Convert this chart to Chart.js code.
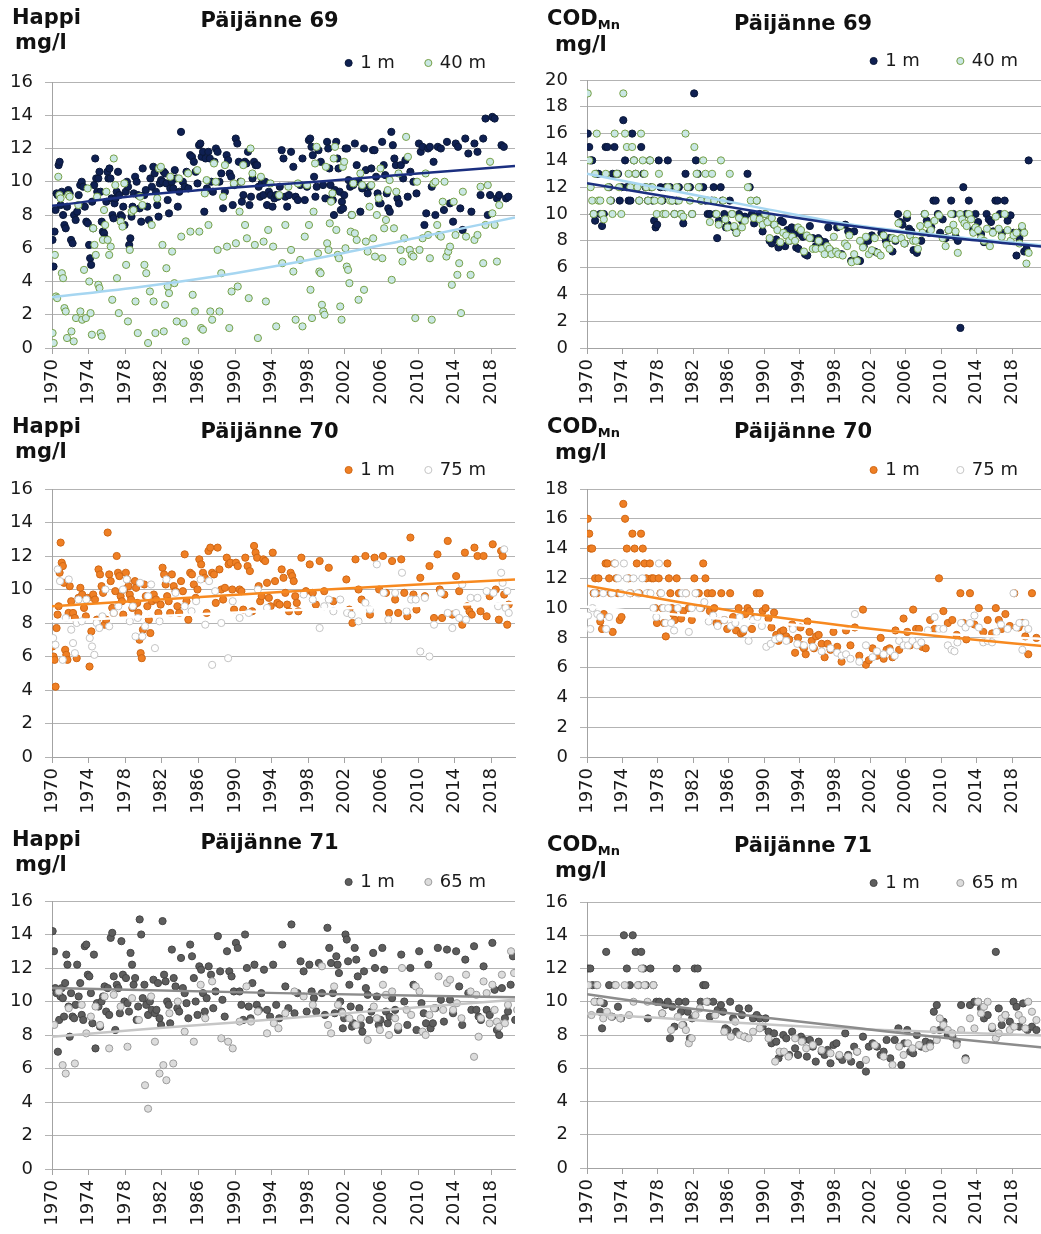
<!DOCTYPE html>
<html>
<head>
<meta charset="utf-8">
<script src="https://cdn.jsdelivr.net/npm/chart.js@4.4.1/dist/chart.umd.min.js"></script>
<style>
  html, body { margin: 0; padding: 0; background: #fff; overflow: hidden; width: 1041px; height: 1234px; }
  body { position: relative; font-family: 'DejaVu Sans', Verdana, sans-serif; color: #1a1a1a; }
  canvas { position: absolute; }
  .unit { position: absolute; font-weight: bold; font-size: 21px; line-height: 21px; white-space: nowrap; color: #111; }
  .unit .sub { font-size: 13px; position: relative; top: 4px; }
</style>
</head>
<body>

<canvas id="c1" width="520" height="412" style="left:0;top:0"></canvas>
<canvas id="c2" width="536" height="414" style="left:520px;top:-2px"></canvas>
<canvas id="c3" width="520" height="414" style="left:0;top:407px"></canvas>
<canvas id="c4" width="536" height="414" style="left:520px;top:407px"></canvas>
<canvas id="c5" width="520" height="414" style="left:0;top:819px"></canvas>
<canvas id="c6" width="536" height="412" style="left:520px;top:820px"></canvas>

<div class="unit" style="left:12px;top:7px">Happi</div>
<div class="unit" style="left:15px;top:32px">mg/l</div>
<div class="unit" style="left:547px;top:8px">COD<span class="sub">Mn</span></div>
<div class="unit" style="left:555px;top:34px">mg/l</div>

<div class="unit" style="left:12px;top:416px">Happi</div>
<div class="unit" style="left:15px;top:441px">mg/l</div>
<div class="unit" style="left:547px;top:416px">COD<span class="sub">Mn</span></div>
<div class="unit" style="left:555px;top:442px">mg/l</div>

<div class="unit" style="left:12px;top:829px">Happi</div>
<div class="unit" style="left:15px;top:854px">mg/l</div>
<div class="unit" style="left:547px;top:834px">COD<span class="sub">Mn</span></div>
<div class="unit" style="left:555px;top:860px">mg/l</div>

<script>
// Year labels on every x axis
const yearTicks = [1970, 1974, 1978, 1982, 1986, 1990, 1994, 1998, 2002, 2006, 2010, 2014, 2018];

// Observations: each row is [year, values measured during that year...]

// Päijänne 69 – dissolved oxygen (mg/l)
const happi69_1m = [
  [1970, 6.5, 4.9, 7.0, 8.3, 9.3, 9.2, 11.0, 11.2, 8.6],
  [1971, 9.4, 8.0, 7.4, 7.2, 8.5, 9.5, 9.3],
  [1972, 6.5, 6.3, 8.0, 7.7, 8.2, 9.2],
  [1973, 9.8, 10.0, 9.7, 8.5, 7.6, 7.5],
  [1974, 6.2, 5.4, 5.0, 8.8, 7.2, 9.8, 11.4, 10.2, 9.4],
  [1975, 10.2, 10.6, 9.4, 7.6, 7.0, 6.9, 6.6, 8.8],
  [1976, 10.6, 10.2, 10.8, 10.2, 9.0, 8.0, 7.8, 8.7, 9.0],
  [1977, 9.4, 10.6, 9.2, 8.0, 7.9, 8.5, 7.4],
  [1978, 9.4, 10.0, 9.7, 6.2, 6.6, 7.9, 8.5, 9.3],
  [1979, 10.3, 10.0, 9.2, 8.4, 7.6, 10.8],
  [1980, 9.2, 9.5, 8.5, 7.7, 10.2, 9.7],
  [1981, 10.9, 10.5, 9.4, 8.6, 7.9, 9.9, 10.1],
  [1982, 10.0, 10.6, 10.5, 9.9, 8.9, 8.1, 9.6],
  [1983, 10.0, 9.6, 10.7, 10.2, 8.5, 9.4],
  [1984, 13.0, 10.0, 9.7, 10.6, 9.6],
  [1985, 11.6, 11.5, 11.2, 10.6, 9.9],
  [1986, 12.2, 12.3, 11.5, 11.8, 8.2, 11.4, 9.6],
  [1987, 11.8, 11.4, 10.0, 9.4, 11.2, 12.0],
  [1988, 11.8, 10.0, 10.5, 8.4, 9.4],
  [1989, 11.6, 11.3, 10.5, 10.3, 8.6, 9.8],
  [1990, 12.6, 12.3, 11.2, 10.0, 8.8, 9.2],
  [1991, 11.2, 11.1, 11.8, 8.6, 9.1, 10.2],
  [1992, 11.2, 11.0, 11.0, 9.7, 9.1, 9.9],
  [1993, 9.2, 10.0, 8.6, 9.4, 9.2],
  [1994, 8.5, 9.0, 9.2, 9.1, 9.7],
  [1995, 11.9, 11.4, 9.1, 8.5, 9.2],
  [1996, 11.8, 10.9, 9.1, 8.9],
  [1997, 9.8, 11.4, 8.9, 9.7],
  [1998, 12.5, 12.6, 12.1, 11.6, 10.3, 9.1, 9.7],
  [1999, 11.9, 11.2, 9.8, 9.0],
  [2000, 12.4, 12.0, 10.8, 9.8, 9.0, 8.9, 8.0, 9.5],
  [2001, 12.4, 11.4, 10.8, 9.4, 8.3, 8.8, 8.4, 9.2],
  [2002, 12.0, 12.0, 10.1, 9.7, 8.0, 9.8],
  [2003, 12.3, 11.0, 10.0, 8.2, 9.6],
  [2004, 12.0, 10.7, 9.3, 9.7, 10.8],
  [2005, 11.9, 11.9, 10.3, 9.3, 8.7, 8.7],
  [2006, 12.4, 11.0, 10.4, 9.3, 8.4, 8.2],
  [2007, 13.0, 12.2, 11.4, 11.0, 9.0, 8.7],
  [2008, 11.0, 10.2, 11.3, 9.1],
  [2009, 10.6, 10.0, 9.3],
  [2010, 12.3, 11.8, 12.1, 7.4, 8.1],
  [2011, 12.0, 12.1, 9.7, 11.2, 8.0],
  [2012, 12.1, 12.0, 8.3],
  [2013, 12.4, 8.7, 7.6],
  [2014, 12.3, 12.1, 8.4, 7.1],
  [2015, 12.6, 11.7, 8.2],
  [2016, 12.3, 11.8, 9.2],
  [2017, 12.6, 13.8, 8.0, 9.2],
  [2018, 13.9, 13.8, 9.0, 9.2],
  [2019, 12.2, 12.1, 9.0, 9.1]
];
const happi69_40m = [
  [1970, 0.9, 0.3, 5.6, 3.1, 3.0, 10.3, 9.2, 9.0],
  [1971, 4.5, 4.2, 2.4, 2.2, 0.6, 9.2, 9.1],
  [1972, 1.0, 0.4, 1.8, 8.6],
  [1973, 2.2, 1.7, 4.7, 1.8, 9.6],
  [1974, 4.0, 2.1, 0.8, 7.2, 6.2, 5.6, 9.1],
  [1975, 3.8, 3.6, 0.9, 0.7, 6.5, 8.3, 7.4, 9.4],
  [1976, 6.5, 5.6, 6.1, 2.9, 11.4, 9.8],
  [1977, 4.2, 2.1, 7.6, 7.3, 9.9],
  [1978, 5.0, 1.6, 5.9, 8.2, 8.3],
  [1979, 2.8, 0.9, 9.1, 8.6],
  [1980, 5.0, 4.5, 0.3, 3.4, 7.4],
  [1981, 2.8, 0.9, 9.0, 10.8, 10.9],
  [1982, 6.2, 1.0, 2.6, 4.8, 3.7, 3.3, 10.3],
  [1983, 5.8, 3.9, 1.6, 10.2],
  [1984, 6.7, 1.5, 0.4, 10.5],
  [1985, 7.0, 3.2, 2.2, 10.7],
  [1986, 7.0, 1.2, 1.1, 9.3, 10.1],
  [1987, 7.4, 2.2, 1.7, 11.1, 10.0],
  [1988, 5.9, 2.2, 4.5, 9.1, 11.0],
  [1989, 6.1, 1.2, 3.4, 9.9],
  [1990, 6.3, 3.7, 8.2, 10.0, 11.0],
  [1991, 7.4, 6.6, 3.0, 12.0, 10.5],
  [1992, 6.2, 0.6, 10.3],
  [1993, 6.4, 2.8, 7.1, 9.9],
  [1994, 6.1, 1.3, 9.2],
  [1995, 5.1, 7.4, 9.7],
  [1996, 5.9, 4.6, 1.7, 9.9],
  [1997, 5.3, 1.3, 6.7, 9.8],
  [1998, 7.4, 3.5, 1.8, 8.2, 11.1, 12.1],
  [1999, 5.7, 4.6, 4.5, 2.6, 2.2, 2.0, 10.9],
  [2000, 6.3, 5.9, 7.5, 8.8, 9.3, 11.4, 12.1],
  [2001, 7.1, 5.6, 5.4, 2.5, 1.7, 10.9, 11.2],
  [2002, 6.0, 4.9, 4.7, 3.9, 7.0, 8.0, 9.9],
  [2003, 6.9, 6.5, 2.9, 10.5, 9.8],
  [2004, 3.5, 6.4, 5.8, 8.5, 9.8],
  [2005, 6.6, 5.5, 8.0, 9.0, 10.8],
  [2006, 5.4, 7.2, 7.7, 9.5, 10.1],
  [2007, 4.1, 7.2, 9.4, 10.5],
  [2008, 5.9, 5.2, 6.6, 12.7, 11.5],
  [2009, 5.9, 5.6, 5.5, 1.8, 10.0],
  [2010, 5.9, 6.6, 10.5],
  [2011, 6.8, 5.4, 1.7, 9.9, 10.0],
  [2012, 7.4, 6.8, 6.7, 8.8, 10.0],
  [2013, 5.5, 5.8, 6.1, 3.8, 8.8],
  [2014, 6.8, 4.4, 5.1, 2.1, 9.4],
  [2015, 6.7, 4.4],
  [2016, 6.5, 6.8, 9.7],
  [2017, 5.1, 7.4, 9.8, 11.2],
  [2018, 8.1, 7.4, 5.2, 8.6]
];
const happi69_trend1m = [[1970, 8.55], [1980, 9.2], [1990, 9.65], [2000, 10.05], [2010, 10.5], [2020.6, 10.95]];
const happi69_trend40m = [[1970, 3.05], [1980, 3.7], [1990, 4.5], [2000, 5.5], [2010, 6.65], [2020.6, 7.85]];

// Päijänne 69 – COD Mn (mg/l)
const cod69_1m = [
  [1970, 16, 15, 14, 14, 10, 9.5],
  [1971, 13, 13, 10, 9.1, 10],
  [1972, 15, 15, 12, 11, 13],
  [1973, 15, 13, 13, 11, 12],
  [1974, 17, 14, 12, 11, 11],
  [1975, 16, 14, 13, 12, 11],
  [1976, 15, 13, 12, 11],
  [1977, 14, 12, 11, 9.5, 9, 9.2],
  [1978, 14, 12, 11, 10, 12],
  [1979, 14, 12, 11, 10],
  [1980, 11, 12, 10, 9.3],
  [1981, 13, 12, 12, 10],
  [1982, 19, 14, 13, 12, 11],
  [1983, 12, 11, 10, 10],
  [1984, 11, 12, 10, 8.2, 9.5],
  [1985, 12, 11, 10, 9, 9.2],
  [1986, 11, 10, 9, 8.6],
  [1987, 10, 9.5, 9.8],
  [1988, 13, 12, 10, 9.3],
  [1989, 11, 10, 8.7],
  [1990, 10, 9.4, 8, 7.8],
  [1991, 9.2, 8.1, 7.5, 9.5],
  [1992, 9.4, 7.6, 8.8, 8.0],
  [1993, 9, 8.5, 7.5, 7.4],
  [1994, 8.5, 8.3, 7.0, 6.9],
  [1995, 9.1, 8.2, 7.6],
  [1996, 8.2, 8.0, 7.5, 7.9],
  [1997, 9, 7.2],
  [1998, 9.0, 7.0],
  [1999, 9.2, 8.7, 6.5],
  [2000, 8.7, 6.6, 6.5],
  [2001, 7.6, 8.0],
  [2002, 8.4, 7.2, 7.1],
  [2003, 8.6, 8.0],
  [2004, 8.2, 7.2, 8.0],
  [2005, 10, 9.4, 9.2, 7.8],
  [2006, 9.7, 8.9, 8.7, 7.3],
  [2007, 7.1, 8.0],
  [2008, 10, 9.5, 8.6, 9.0],
  [2009, 11, 11, 10, 8.6],
  [2010, 9.6, 8.2, 8.8],
  [2011, 11, 10, 8.3, 8.0],
  [2012, 1.5, 12, 10],
  [2013, 11, 9.8, 8.8, 10],
  [2014, 9.4, 8.5, 7.9],
  [2015, 10, 9.6, 9.4, 8.7],
  [2016, 11, 11, 10, 8.6],
  [2017, 11, 9.5, 9.9],
  [2018, 8.6, 6.9, 8.2],
  [2019, 8.8, 7.2, 7.4, 14]
];
const cod69_40m = [
  [1970, 19, 14, 12, 11, 10, 13],
  [1971, 16, 11, 11, 10, 9.6],
  [1972, 13, 12, 11, 10],
  [1973, 16, 13, 12, 10],
  [1974, 19, 16, 15, 13, 12],
  [1975, 15, 14, 13, 12, 11],
  [1976, 16, 14, 13, 12, 11],
  [1977, 14, 12, 11, 10],
  [1978, 13, 11, 10, 10],
  [1979, 12, 11, 11, 10],
  [1980, 12, 11, 10, 9.8],
  [1981, 16, 12, 11, 10],
  [1982, 15, 13, 12, 11],
  [1983, 14, 13, 11, 9.4],
  [1984, 13, 11, 10, 9.2],
  [1985, 14, 11, 9.6, 9.0],
  [1986, 13, 10, 9.1, 8.6],
  [1987, 9.7, 9.0, 9.5],
  [1988, 12, 11, 9.7],
  [1989, 11, 9.6, 9.2],
  [1990, 10, 9.4, 8.2, 9.7],
  [1991, 9.2, 8.8, 7.9],
  [1992, 8.6, 8.4, 8.0],
  [1993, 8.3, 8.0, 9.0],
  [1994, 8.8, 7.2, 8.4],
  [1995, 8.2, 7.4, 7.4],
  [1996, 8.0, 7.4, 7.0],
  [1997, 7.6, 7.4, 7.0, 8.3],
  [1998, 7.2, 7.0, 9.1, 6.9],
  [1999, 7.8, 7.6, 8.4, 6.4],
  [2000, 7.0, 6.5, 8.0],
  [2001, 7.5, 8.3, 7.0],
  [2002, 7.3, 8.2, 7.1],
  [2003, 6.9, 8.4, 7.7],
  [2004, 7.4, 8.2, 8.1],
  [2005, 9.3, 8.2, 7.8],
  [2006, 10, 8.4, 8.0],
  [2007, 8.0, 7.4, 9.1, 8.6],
  [2008, 10, 9.2, 8.8],
  [2009, 9.5, 9.9],
  [2010, 8.2, 7.6, 8.8],
  [2011, 10, 9.2, 8.7, 7.1],
  [2012, 10, 9.6, 9.3, 9.1],
  [2013, 10, 9.6, 8.6, 9.0],
  [2014, 8.8, 8.2, 8.0],
  [2015, 8.9, 7.6, 8.6],
  [2016, 9.8, 8.9, 8.3],
  [2017, 10, 8.8, 8.0],
  [2018, 8.4, 8.6, 7.8],
  [2019, 9.1, 8.6, 6.3, 7.1]
];
const cod69_trend1m = [[1970, 12.3], [1980, 11.2], [1990, 10.1], [2000, 9.1], [2010, 8.3], [2022.4, 7.5]];
const cod69_trend40m = [[1970, 13.0], [1980, 11.7], [1990, 10.4], [2000, 9.2], [2010, 8.4], [2022.4, 7.6]];

// Päijänne 70 – dissolved oxygen (mg/l)
const happi70_1m = [
  [1970, 6.6, 6.0, 5.8, 4.2, 7.7, 8.5, 9.0, 11.0, 12.8],
  [1971, 11.6, 11.4, 10.4, 6.4, 6.1, 5.8, 8.6, 10.2],
  [1972, 9.3, 8.6, 8.3, 5.9, 9.5],
  [1973, 10.1, 9.7, 8.9, 8.4, 9.5],
  [1974, 5.4, 7.5, 9.7, 9.4, 8.2],
  [1975, 11.2, 10.9, 10.2, 9.8, 7.9, 8.2],
  [1976, 13.4, 10.9, 10.5, 8.9, 8.6, 9.9],
  [1977, 12.0, 11.0, 10.8, 9.6, 9.3, 8.5, 10.0],
  [1978, 11.0, 10.6, 10.2, 9.7, 9.4, 8.9, 9.0],
  [1979, 10.5, 10.1, 9.2, 8.6, 7.0, 6.2, 5.9, 7.6],
  [1980, 10.3, 9.6, 9.0, 8.2, 7.4, 9.3],
  [1981, 9.7, 9.4, 8.6, 9.1],
  [1982, 11.3, 10.9, 10.3, 9.6, 9.3, 8.6],
  [1983, 10.9, 10.2, 9.9, 9.0, 8.6],
  [1984, 10.5, 9.9, 12.1, 9.3, 8.2],
  [1985, 11.0, 10.9, 10.3, 9.5, 10.0],
  [1986, 11.8, 11.5, 11.0, 10.7, 8.6],
  [1987, 12.3, 12.5, 11.0, 10.9, 9.2],
  [1988, 12.5, 11.2, 10.0, 9.4, 10.1],
  [1989, 11.9, 11.5, 11.6, 10.0, 8.8],
  [1990, 11.6, 11.4, 10.0, 9.9, 8.8],
  [1991, 11.9, 11.4, 11.1, 8.7],
  [1992, 12.6, 12.2, 11.9, 10.2, 9.3, 9.6],
  [1993, 11.8, 11.7, 10.4, 9.5, 9.0],
  [1994, 12.2, 10.5, 9.2, 9.1],
  [1995, 11.2, 10.7, 9.8, 9.1, 8.7],
  [1996, 11.0, 10.8, 10.5, 9.6, 9.2, 8.7],
  [1997, 11.9, 9.9],
  [1998, 11.5, 9.8, 9.1],
  [1999, 11.7, 9.9],
  [2000, 11.3, 9.3],
  [2002, 10.6, 8.8, 8.0],
  [2003, 11.8, 10.0, 9.4],
  [2004, 12.0, 8.5],
  [2005, 11.9, 10.0],
  [2006, 12.0, 9.8, 8.6],
  [2007, 11.7, 9.4, 8.6],
  [2008, 11.8, 9.8, 8.4],
  [2009, 13.1, 9.7, 8.8],
  [2010, 10.7, 9.6],
  [2011, 11.4, 8.3],
  [2012, 12.1, 10.0, 8.3, 9.7],
  [2013, 12.9, 8.5],
  [2014, 10.8, 9.9, 7.9],
  [2015, 12.2, 9.0, 8.7, 8.5],
  [2016, 12.5, 12.0, 8.7],
  [2017, 12.0, 8.4, 9.6],
  [2018, 12.7, 10.0, 8.2],
  [2019, 12.3, 12.0, 9.7, 9.0, 7.9, 9.1]
];
const happi70_75m = [
  [1970, 7.1, 6.7, 11.2, 10.5],
  [1971, 5.8, 8.3, 10.6],
  [1972, 7.6, 6.8, 6.2, 8.0, 9.4],
  [1973, 8.1, 9.4],
  [1974, 7.1, 6.6, 6.1, 8.0],
  [1975, 7.7, 8.4, 10.0],
  [1976, 7.8, 8.6],
  [1977, 9.0, 10.0],
  [1978, 10.6, 8.1, 9.0],
  [1979, 7.2, 8.3, 10.4, 7.2],
  [1980, 7.8, 9.6, 10.3],
  [1981, 6.5, 8.1],
  [1982, 10.6],
  [1983, 9.8],
  [1984, 9.0],
  [1985, 8.7, 9.3],
  [1986, 10.6, 7.9],
  [1987, 10.5, 5.5, 9.9],
  [1988, 8.0],
  [1989, 5.9, 9.3],
  [1990, 8.3],
  [1991, 8.6],
  [1992, 10.0],
  [1993, 8.9],
  [1997, 9.7],
  [1998, 9.4],
  [1999, 7.7, 9.0],
  [2000, 9.4, 8.7],
  [2001, 9.4],
  [2002, 8.6, 8.5],
  [2003, 8.1],
  [2004, 9.2, 8.8],
  [2005, 11.5],
  [2006, 9.8, 8.2],
  [2007, 9.8],
  [2008, 11.0, 8.7],
  [2009, 9.4, 9.4],
  [2010, 6.3, 9.5],
  [2011, 6.0, 7.9],
  [2012, 9.8],
  [2013, 8.6, 7.7],
  [2014, 8.6, 8.3, 10.3],
  [2015, 8.2, 9.5],
  [2016, 9.5],
  [2017, 9.9],
  [2018, 9.8, 9.0],
  [2019, 11.0, 10.4, 12.4, 8.9, 9.9, 8.6]
];
const happi70_trend1m = [[1970, 9.0], [1995, 9.85], [2020.6, 10.6]];
const happi70_trend75m = [[1970, 8.1], [1995, 8.75], [2020.6, 9.2]];

// Päijänne 70 – COD Mn (mg/l)
const cod70_1m = [
  [1970, 16, 15, 14, 14, 11, 12],
  [1971, 11, 12, 9.1, 8.6, 9.6],
  [1972, 13, 13, 12, 11, 8.4],
  [1973, 13, 12, 11, 9.2, 9.4],
  [1974, 17, 16, 14, 12, 11],
  [1975, 15, 14, 13, 11],
  [1976, 15, 14, 13, 12, 11],
  [1977, 13, 12, 12, 10, 9.0],
  [1978, 12, 11, 10, 9.0, 8.1],
  [1979, 13, 12, 11, 10, 9.6, 9.2],
  [1980, 12, 11, 9.3, 9.8],
  [1981, 11, 10, 9.2],
  [1982, 12, 11, 11, 10],
  [1983, 13, 12, 11, 9.8],
  [1984, 11, 10, 9.0, 9.1],
  [1985, 11, 9.2, 8.6],
  [1986, 11, 9.4, 8.5],
  [1987, 10, 8.3, 8.4, 9.6],
  [1988, 10, 9.8, 8.6, 9.3],
  [1989, 11, 11, 9.8],
  [1990, 10, 9.3, 8.7],
  [1991, 9.7, 8.2, 7.8, 8.4],
  [1992, 8.5, 8.1, 7.9],
  [1993, 8.9, 7.0, 8.0],
  [1994, 8.7, 7.5, 7.3, 6.9, 9.1],
  [1995, 8.4, 7.8, 7.3, 8.1],
  [1996, 8.2, 7.6, 6.7],
  [1997, 7.6, 7.2, 8.4],
  [1998, 7.4, 6.4],
  [1999, 8.5, 7.5],
  [2000, 8.7, 6.8],
  [2001, 9.9, 6.2, 6.5],
  [2002, 7.3, 6.8],
  [2003, 8.0, 6.6, 7.2],
  [2004, 7.3, 6.7, 8.5],
  [2005, 7.2, 9.3],
  [2006, 8.4, 7.5, 9.9],
  [2007, 8.6, 8.6, 7.4],
  [2008, 7.3, 9.2],
  [2009, 8.6, 12],
  [2010, 9.8, 9.0],
  [2011, 9.2, 8.2],
  [2012, 11, 9.0, 7.9],
  [2013, 11, 8.9],
  [2014, 10, 8.4],
  [2015, 9.2, 8.3],
  [2016, 10, 9.2, 8.6],
  [2017, 9.6, 8.8],
  [2018, 11, 8.7],
  [2019, 9.0, 8.1, 6.9],
  [2020, 11, 8.0]
];
const cod70_75m = [
  [1970, 9.5, 8.6, 10, 11],
  [1971, 9.6, 9.4, 11],
  [1972, 8.6, 9.4, 11],
  [1973, 13, 12, 11],
  [1974, 13, 12, 11],
  [1975, 12, 11],
  [1976, 12, 11],
  [1977, 11, 10, 9.4],
  [1978, 13, 11, 10, 9.0],
  [1979, 10, 9.0, 8.5],
  [1980, 10, 11],
  [1981, 11, 8.4, 10],
  [1982, 11, 10],
  [1983, 10.4, 9.1],
  [1984, 9.5, 8.8],
  [1985, 9.2],
  [1986, 8.8, 9.0],
  [1987, 9.4, 8.6],
  [1988, 7.8, 9.2],
  [1989, 9.4, 8.8],
  [1990, 7.4, 7.6],
  [1991, 7.9, 8.0],
  [1992, 7.8],
  [1993, 8.6, 7.6],
  [1994, 7.5],
  [1995, 7.4],
  [1996, 7.1],
  [1997, 7.3],
  [1998, 7.0, 6.8],
  [1999, 6.9, 6.6],
  [2000, 9.6, 6.4],
  [2001, 7.5],
  [2002, 6.7, 7.1],
  [2003, 6.9],
  [2004, 7.1, 6.8],
  [2005, 7.8, 7.5],
  [2006, 7.5, 7.8],
  [2007, 7.5, 7.7],
  [2008, 8.5],
  [2009, 9.4, 8.6],
  [2010, 8.6, 7.5],
  [2011, 7.2, 7.1, 7.7],
  [2012, 9.0, 8.7],
  [2013, 9.0, 9.5],
  [2014, 8.7, 7.7],
  [2015, 7.8, 7.7],
  [2016, 8.4, 8.9],
  [2017, 8.6],
  [2018, 11, 8.7, 9.0],
  [2019, 7.2, 9.0, 8.6]
];
const cod70_trend1m = [[1970, 11.5], [1980, 10.45], [1990, 9.5], [2000, 8.75], [2010, 8.1], [2022.4, 7.4]];
const cod70_trend75m = [[1970, 10.1], [1995, 8.8], [2022.4, 7.9]];

// Päijänne 71 – dissolved oxygen (mg/l)
const happi71_1m = [
  [1970, 14.2, 13.0, 10.8, 10.5, 7.0, 8.9, 10.3],
  [1971, 10.8, 10.2, 9.1, 11.1, 12.8, 12.2, 9.7, 7.9],
  [1972, 10.5, 9.1, 9.0, 9.8, 12.2, 10.3],
  [1973, 11.1, 9.2, 8.9, 13.3, 13.4, 11.6],
  [1974, 11.5, 10.5, 8.7, 12.8, 7.2, 9.9],
  [1975, 9.7, 8.5, 10.0, 10.3, 10.9, 9.4],
  [1976, 10.8, 9.2, 13.8, 14.1, 11.5, 8.3],
  [1977, 11.0, 10.8, 9.3, 13.6, 11.6, 10.0],
  [1978, 11.4, 9.9, 9.4, 12.9, 12.2, 11.0],
  [1979, 11.4, 8.9, 9.7, 14.9, 14.0, 10.2],
  [1980, 11.0, 9.8, 9.2, 10.0, 9.5],
  [1981, 11.3, 9.3, 9.5, 11.1, 9.0, 8.6],
  [1982, 14.8, 11.6, 11.2, 10.0, 9.8, 8.7],
  [1983, 13.1, 11.4, 10.9, 9.6, 9.4],
  [1984, 12.6, 10.8, 10.5, 9.9, 9.0],
  [1985, 13.4, 12.7, 11.4, 10.0, 9.2],
  [1986, 12.1, 11.9, 10.5, 9.4, 10.2],
  [1987, 12.1, 11.6, 9.6, 10.6],
  [1988, 13.9, 11.8, 10.1, 9.1],
  [1989, 13.0, 11.8, 11.5, 10.6],
  [1990, 13.5, 13.2, 10.6, 9.8, 8.9],
  [1991, 14.0, 12.0, 9.7, 9.0, 11.1],
  [1992, 12.2, 9.8, 9.5, 10.5],
  [1993, 11.9, 9.5, 9.1],
  [1994, 12.2, 9.8, 9.0],
  [1995, 13.4, 10.9, 9.6],
  [1996, 14.6, 9.3, 10.5],
  [1997, 12.4, 11.8, 9.4],
  [1998, 12.2, 10.6, 10.2, 9.4],
  [1999, 12.3, 10.5, 9.2],
  [2000, 14.4, 13.2, 12.3, 10.5, 9.3],
  [2001, 12.7, 12.2, 11.7, 10.0, 9.4, 8.4, 9.0],
  [2002, 14.0, 13.7, 12.4, 11.0, 9.7, 8.5, 8.7],
  [2003, 13.2, 12.5, 11.5, 9.6, 8.6, 8.2],
  [2004, 11.8, 10.8, 10.4, 8.9, 9.4],
  [2005, 12.9, 12.0, 10.3, 8.6, 8.9],
  [2006, 13.2, 11.9, 9.4, 8.7, 9.1],
  [2007, 10.2, 9.5, 8.3],
  [2008, 12.8, 10.0, 8.6],
  [2009, 12.0, 11.0, 8.3],
  [2010, 13.0, 9.9, 9.3, 8.7],
  [2011, 12.2, 8.4, 8.7, 9.6],
  [2012, 13.2, 10.1, 8.8],
  [2013, 13.1, 10.1, 9.3],
  [2014, 13.0, 10.9, 8.6],
  [2015, 12.5, 10.5, 9.5],
  [2016, 13.3, 9.5, 9.1, 8.9],
  [2017, 12.1, 9.5, 9.2],
  [2018, 13.5, 10.7, 8.3, 8.0],
  [2019, 10.8, 9.0, 9.4],
  [2020, 11.0, 12.7, 8.9, 10.0]
];
const happi71_65m = [
  [1970, 8.6, 10.6],
  [1971, 6.2, 5.7, 9.6],
  [1972, 6.3],
  [1973, 9.8, 8.1],
  [1974, 9.1, 9.7],
  [1975, 8.6, 10.3],
  [1976, 7.2, 10.4],
  [1977, 9.7],
  [1978, 7.3, 10.2],
  [1979, 8.9],
  [1980, 5.0, 3.6, 10.3],
  [1981, 7.6, 5.7],
  [1982, 6.2, 5.3, 9.3],
  [1983, 6.3, 10.0],
  [1984, 8.2],
  [1985, 7.6],
  [1986, 11.0, 9.0],
  [1987, 11.2],
  [1988, 7.8],
  [1989, 7.6, 7.2],
  [1990, 8.8],
  [1991, 10.9, 8.8],
  [1992, 9.4],
  [1993, 8.1],
  [1994, 8.7, 8.4],
  [1995, 9.3],
  [1996, 10.6],
  [1997, 10.3],
  [1998, 9.8],
  [1999, 12.1],
  [2000, 8.6, 8.1, 10.9],
  [2001, 9.8, 9.3],
  [2002, 9.0],
  [2003, 8.6, 9.0],
  [2004, 7.7],
  [2005, 9.7, 9.0, 8.3],
  [2006, 11.0, 10.4, 8.0],
  [2007, 10.6, 9.0, 8.5],
  [2008, 12.0, 9.5],
  [2009, 9.2, 10.9],
  [2010, 10.6, 8.2, 8.0],
  [2011, 9.2, 9.6],
  [2012, 11.5, 9.5],
  [2013, 11.1, 11.3, 9.5],
  [2014, 9.9, 9.0],
  [2015, 11.6, 10.6],
  [2016, 6.7, 10.4, 7.9, 9.0],
  [2017, 11.2, 10.5, 8.7],
  [2018, 11.0, 9.5, 8.8, 8.5],
  [2019, 11.6, 8.7, 9.8],
  [2020, 13.0, 11.7, 9.5]
];
const happi71_trend1m = [[1970, 10.8], [1995, 10.5], [2020.6, 10.25]];
const happi71_trend65m = [[1970, 7.9], [1980, 8.35], [1990, 8.75], [2000, 9.2], [2010, 9.65], [2020.6, 10.1]];

// Päijänne 71 – COD Mn (mg/l)
const cod71_1m = [
  [1970, 12, 12, 11, 10],
  [1971, 11, 10, 9.4, 8.4, 9.9],
  [1972, 13, 11, 9.1],
  [1973, 11, 9.7, 9.0],
  [1974, 14, 12, 11],
  [1975, 14, 13, 11],
  [1976, 13, 12, 11, 9.0],
  [1977, 12, 11, 10],
  [1978, 10, 9.3, 9.8],
  [1979, 10, 7.8, 9.7, 8.5],
  [1980, 12, 10, 9.4, 8.6],
  [1981, 10, 9.4, 7.8, 9.0],
  [1982, 12, 12, 10],
  [1983, 11, 11, 10, 9.1],
  [1984, 10, 9.5],
  [1985, 9.8, 9.4, 8.4, 8.3],
  [1986, 10, 9.0, 8.2],
  [1987, 9.6, 9.2, 7.9],
  [1988, 9.6, 9.0],
  [1989, 9.2, 9.0, 8.5],
  [1990, 9.0, 8.2, 7.5],
  [1991, 8.1, 7.6, 6.6, 6.9],
  [1992, 8.0, 7.8, 6.8],
  [1993, 8.2, 7.2, 6.8],
  [1994, 7.9, 7.7, 6.7],
  [1995, 7.7, 7.3, 6.4],
  [1996, 7.6, 7.0, 6.8],
  [1997, 7.1, 6.3, 7.4],
  [1998, 7.5, 6.7, 6.5],
  [1999, 8.1, 6.8, 6.4],
  [2000, 7.3, 7.0, 6.2],
  [2001, 7.9, 5.8, 7.3],
  [2002, 7.5, 7.3],
  [2003, 6.8, 7.0, 7.7],
  [2004, 6.6, 7.7],
  [2005, 8.4, 6.2, 7.5],
  [2006, 8.3, 7.0, 6.9],
  [2007, 8.0, 7.3],
  [2008, 7.6, 7.5],
  [2009, 9.4, 9.8, 8.3],
  [2010, 8.8, 8.0],
  [2011, 7.9, 7.6],
  [2012, 9.8, 6.6],
  [2013, 9.8, 10],
  [2014, 10, 9.6, 9.0],
  [2015, 9.2, 8.4],
  [2016, 13, 9.6, 8.6],
  [2017, 9.2, 8.8],
  [2018, 10, 9.7, 8.5],
  [2019, 9.9, 8.3],
  [2020, 8.5, 8.3]
];
const cod71_65m = [
  [1970, 11, 9.2, 10],
  [1971, 11, 10, 9.0],
  [1972, 9.4, 9.1],
  [1973, 11, 9.0],
  [1974, 11, 9.2],
  [1975, 10, 11],
  [1976, 12, 11, 10],
  [1977, 11],
  [1978, 9.3],
  [1979, 8.3],
  [1980, 9.1, 8.6],
  [1981, 8.3, 7.5, 7.8],
  [1982, 9.2, 9.6],
  [1983, 10],
  [1984, 9.2],
  [1985, 8.2],
  [1986, 7.9, 8.8],
  [1987, 8.0, 7.9],
  [1988, 7.8, 8.2],
  [1989, 8.4],
  [1990, 7.8],
  [1991, 6.4, 7.0],
  [1992, 7.0, 6.7],
  [1993, 7.8],
  [1994, 7.6, 7.2],
  [1995, 7.4],
  [1996, 7.1],
  [1997, 6.9],
  [1998, 6.8],
  [1999, 6.7],
  [2000, 7.0],
  [2001, 6.5],
  [2002, 7.4],
  [2003, 6.7],
  [2004, 6.2],
  [2005, 7.3, 6.8],
  [2006, 7.5, 7.2],
  [2007, 7.4],
  [2008, 7.2, 7.3],
  [2009, 8.3, 7.7, 9.0],
  [2010, 8.6, 8.3],
  [2011, 8.1, 7.4],
  [2012, 8.3, 6.5],
  [2013, 9.0, 8.4],
  [2014, 10, 9.3, 9.7],
  [2015, 10, 8.5],
  [2016, 7.8, 8.1, 9.0],
  [2017, 9.2, 8.3],
  [2018, 8.5, 9.2],
  [2019, 8.9, 8.4, 10],
  [2020, 9.4, 8.9]
];
const cod71_trend1m = [[1970, 10.45], [1980, 9.7], [1990, 9.05], [2000, 8.45], [2010, 7.85], [2022.4, 7.2]];
const cod71_trend65m = [[1970, 9.3], [1995, 8.5], [2022.4, 7.95]];

const FONT = "'DejaVu Sans', Verdana, sans-serif";

// Width of a two-digit tick label, used to right-align the y labels
const measureCtx = document.createElement('canvas').getContext('2d');
measureCtx.font = '18px ' + FONT;
const twoDigitWidth = measureCtx.measureText('16').width;

// Spread the samples of one year evenly across that year
function samples(rows) {
  const pts = [];
  rows.forEach(r => {
    const vals = r.slice(1);
    vals.forEach((v, i) => pts.push({ x: r[0] + (i + 0.5) / vals.length, y: v }));
  });
  return pts;
}
function curve(pairs) {
  return pairs.map(p => ({ x: p[0], y: p[1] }));
}

const palette = {
  navy:   { fill: '#0f2052', edge: '#0a1838', trend: '#1b2f80' },
  mint:   { fill: '#c9e7e4', edge: '#76a046', trend: '#a6d6f1' },
  orange: { fill: '#ef7f24', edge: '#d06815', trend: '#f7891f' },
  white:  { fill: '#ffffff', edge: '#c4c4c4', trend: '#ffffff' },
  dark:   { fill: '#5e5e5e', edge: '#454545', trend: '#8c8c8c' },
  light:  { fill: '#dcdcdc', edge: '#9c9c9c', trend: '#c6c6c6' }
};

function pointSet(label, rows, col, order) {
  return {
    label, data: samples(rows), order,
    backgroundColor: col.fill, borderColor: col.edge,
    borderWidth: 1, pointRadius: 3.6, pointStyle: 'circle', showLine: false
  };
}
function trendSet(pairs, col) {
  return {
    label: 'trend', data: curve(pairs), order: 0, trend: true,
    showLine: true, borderColor: col.trend, backgroundColor: col.trend,
    borderWidth: 2.5, pointRadius: 0, fill: false,
    cubicInterpolationMode: 'monotone'
  };
}

const panels = [
  { id: 'c1', side: 'L', title: 'Päijänne 69', tc: 22, yMax: 16,
    sets: [pointSet('1 m', happi69_1m, palette.navy, 2), pointSet('40 m', happi69_40m, palette.mint, 1),
           trendSet(happi69_trend1m, palette.navy), trendSet(happi69_trend40m, palette.mint)] },
  { id: 'c2', side: 'R', title: 'Päijänne 69', tc: 27, yMax: 20,
    sets: [pointSet('1 m', cod69_1m, palette.navy, 2), pointSet('40 m', cod69_40m, palette.mint, 1),
           trendSet(cod69_trend1m, palette.navy), trendSet(cod69_trend40m, palette.mint)] },
  { id: 'c3', side: 'L', title: 'Päijänne 70', tc: 26, yMax: 16,
    sets: [pointSet('1 m', happi70_1m, palette.orange, 2), pointSet('75 m', happi70_75m, palette.white, 1),
           trendSet(happi70_trend1m, palette.orange), trendSet(happi70_trend75m, palette.white)] },
  { id: 'c4', side: 'R', title: 'Päijänne 70', tc: 26, yMax: 18,
    sets: [pointSet('1 m', cod70_1m, palette.orange, 2), pointSet('75 m', cod70_75m, palette.white, 1),
           trendSet(cod70_trend1m, palette.orange), trendSet(cod70_trend75m, palette.white)] },
  { id: 'c5', side: 'L', title: 'Päijänne 71', tc: 25, yMax: 16,
    sets: [pointSet('1 m', happi71_1m, palette.dark, 2), pointSet('65 m', happi71_65m, palette.light, 1),
           trendSet(happi71_trend1m, palette.dark), trendSet(happi71_trend65m, palette.light)] },
  { id: 'c6', side: 'R', title: 'Päijänne 71', tc: 27, yMax: 16,
    sets: [pointSet('1 m', cod71_1m, palette.dark, 2), pointSet('65 m', cod71_65m, palette.light, 1),
           trendSet(cod71_trend1m, palette.dark), trendSet(cod71_trend65m, palette.light)] }
];

const GRID = '#b3b3b3';
const AXIS = '#a3a3a3';
const INK = '#1a1a1a';

panels.forEach(p => {
  const left = p.side === 'L';
  const padLeft = left ? 22 : 30;
  const axisW = left ? 30 : 37;
  const legPad = left ? 31 : 38;
  const legendTop = 82 - (18 + legPad + 10);
  const titleTop = p.tc - 12.6;

  new Chart(document.getElementById(p.id), {
    type: 'scatter',
    data: { datasets: p.sets },
    options: {
      responsive: false,
      animation: false,
      events: [],
      layout: { padding: { left: padLeft, right: left ? 3 : 0, top: 0, bottom: 0 } },
      plugins: {
        title: {
          display: true, text: p.title, color: '#111',
          font: { family: FONT, size: 21, weight: 'bold' },
          padding: { top: titleTop, bottom: legendTop - 25.2 - titleTop }
        },
        legend: {
          display: true, position: 'top', align: 'end',
          labels: {
            usePointStyle: true, pointStyle: 'circle', boxWidth: 5, boxHeight: 5,
            padding: legPad, color: INK, font: { family: FONT, size: 18 },
            filter: (item, data) => !data.datasets[item.datasetIndex].trend,
            sort: (a, b) => a.datasetIndex - b.datasetIndex
          }
        },
        tooltip: { enabled: false }
      },
      scales: {
        x: {
          type: 'linear', min: 1970, max: left ? 2020.6 : 2022.4,
          afterBuildTicks: s => { s.ticks = yearTicks.map(v => ({ value: v })); },
          afterFit: s => { s.height = 64; },
          ticks: {
            autoSkip: false, minRotation: 90, maxRotation: 90, padding: 5,
            color: INK, font: { family: FONT, size: 18 },
            callback: v => String(v)
          },
          grid: { drawOnChartArea: false, drawTicks: true, tickLength: 6, color: AXIS },
          border: { display: true, color: AXIS }
        },
        y: {
          min: 0, max: p.yMax,
          afterFit: s => { s.width = axisW; },
          // mirrored labels are not clipped to the narrow axis box; the negative
          // padding places them back to the left of the axis, right-aligned
          ticks: {
            stepSize: 2, mirror: true, crossAlign: 'far', padding: -(19 + twoDigitWidth),
            color: INK, font: { family: FONT, size: 18 }
          },
          grid: { color: GRID, tickLength: 7 },
          border: { display: true, color: AXIS }
        }
      }
    }
  });
});
</script>
</body>
</html>
